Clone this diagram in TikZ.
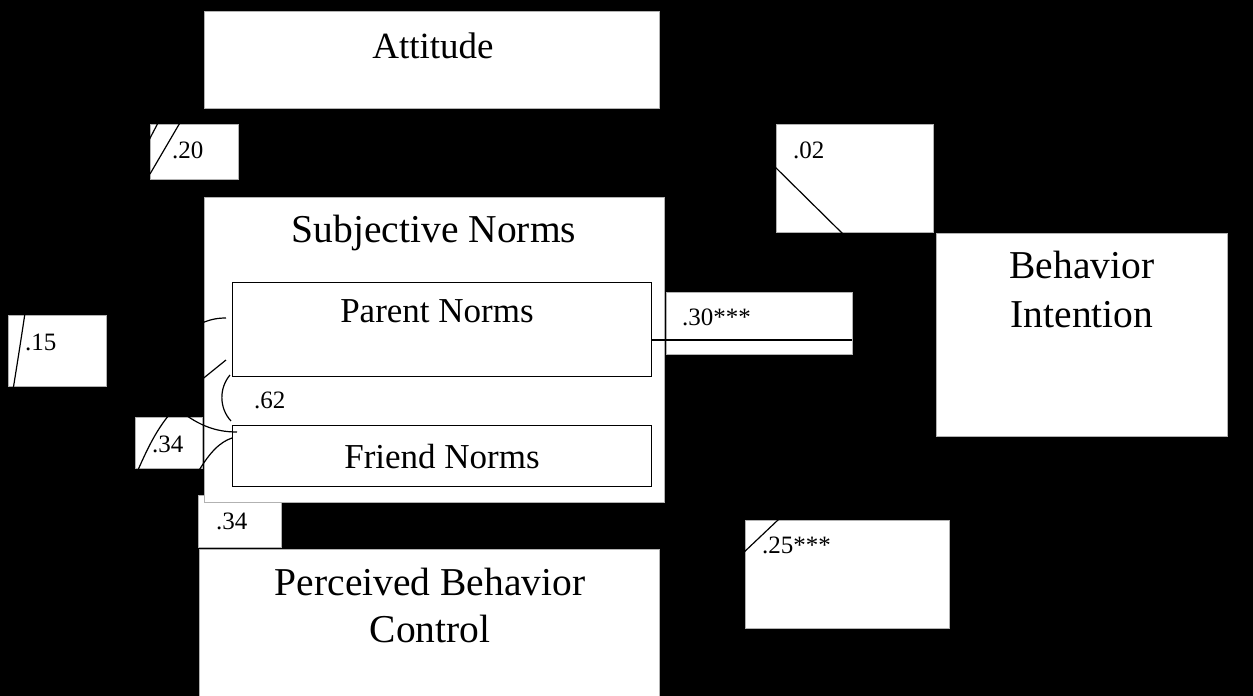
\documentclass[tikz,border=0pt]{standalone}
\usepackage{fontspec}
\setmainfont{Liberation Serif}
\begin{document}
\begin{tikzpicture}[x=1pt,y=-1pt,
  wbox/.style={draw=gray!60, line width=0.8pt, fill=white, inner sep=0pt, anchor=north west},
  ibox/.style={draw=black, line width=1pt, fill=white, inner sep=0pt, anchor=north west},
  big/.style={font=\fontsize{39.5}{47}\selectfont, anchor=base, inner sep=0pt},
  mid/.style={font=\fontsize{35}{40}\selectfont, anchor=base, inner sep=0pt},
  num/.style={font=\fontsize{25}{30}\selectfont, anchor=base west, inner sep=0pt},
  conn/.style={line width=1.2pt, black}]
\useasboundingbox (0,0) rectangle (1253,696);
\fill[black] (0,0) rectangle (1253,696);
\clip (0,0) rectangle (1253,696);
% boxes
\node[wbox, minimum width=455pt, minimum height=97pt] (att) at (204,11) {};
\node[wbox, minimum width=88pt, minimum height=55pt] (b20) at (150,124) {};
\node[wbox, minimum width=83pt, minimum height=52pt] (b34b) at (198,495) {};
\node[wbox, minimum width=460pt, minimum height=305pt] (sn) at (204,197) {};
\node[ibox, minimum width=419pt, minimum height=94pt] (pn) at (232,282) {};
\node[ibox, minimum width=419pt, minimum height=61pt] (fn) at (232,425) {};
\node[wbox, minimum width=98pt, minimum height=71pt] (b15) at (8,315) {};
\node[wbox, minimum width=67pt, minimum height=51pt] (b34a) at (135,417) {};
\node[wbox, minimum width=460pt, minimum height=170pt] (pbc) at (199,549) {};
\node[wbox, minimum width=157pt, minimum height=108pt] (b02) at (776,124) {};
\node[wbox, minimum width=291pt, minimum height=203pt] (bi) at (936,233) {};
\node[wbox, minimum width=186pt, minimum height=62pt] (b30) at (666,292) {};
\node[wbox, minimum width=204pt, minimum height=108pt] (b25) at (745,520) {};
% connectors (visible only where they cross white areas)
\coordinate (c30) at (852,340);
\draw[conn] (pn.east |- c30) -- (c30);
\draw[conn] (148,142) -- (159,121);
\draw[conn] (150,174) -- (181,121);
\draw[conn] (13,390) .. controls (17,365) and (21,340) .. (25,313);
\draw[conn] (138,470) .. controls (146,452) and (155,432) .. (169,415);
\draw[conn] (183,413) .. controls (203,428) and (220,432) .. (237,432);
\draw[conn] (198,472) .. controls (210,452) and (220,442) .. (232,438);
\draw[conn] (200,324) .. controls (208,320) and (216,318) .. (226,318);
\draw[conn] (200,381) -- (226,360);
\draw[conn] (230,375) .. controls (219,388) and (219,408) .. (231,421);
\draw[conn] (770,162) -- (845,236);
\draw[conn] (741,555) -- (779,519);
% texts
\node[big, font=\fontsize{37}{44}\selectfont] (tatt) at (433,58) {Attitude};
\node[big] (tsn) at (434,242) {Subjective Norms};
\node[mid] (tpn) at (437,322) {Parent Norms};
\node[mid] (tfn) at (442,468) {Friend Norms};
\node[big] (tpbc1) at (430,595) {Perceived Behavior};
\node[big] (tpbc2) at (430,642) {Control};
\node[big] (tbi1) at (1082,278) {Behavior};
\node[big] (tbi2) at (1082,327) {Intention};
\node[num] (n20) at (172,158) {.20};
\node[num] (n15) at (25,350) {.15};
\node[num] (n34a) at (152,452) {.34};
\node[num] (n62) at (254,408) {.62};
\node[num] (n34b) at (216,529) {.34};
\node[num] (n02) at (793,158) {.02};
\node[num] (n30) at (682,325) {.30***};
\node[num] (n25) at (762,553) {.25***};
\end{tikzpicture}
\end{document}
